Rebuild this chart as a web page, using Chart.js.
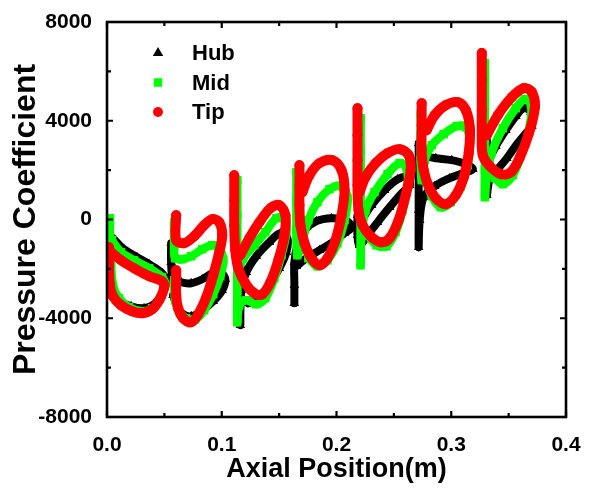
<!DOCTYPE html>
<html>
<head>
<meta charset="utf-8">
<script src="https://cdn.jsdelivr.net/npm/chart.js@4/dist/chart.umd.min.js"></script>
<style>
  body { margin: 0; background: #fff; }
  canvas { display: block; }
</style>
</head>
<body>
<canvas id="grafico" width="590" height="489"></canvas>
<script>
// ===== DADOS =====
// cada estágio de pá separado por null
const xTicks = [0, 0.1, 0.2, 0.3, 0.4];
const yTicks = [-8000, -4000, 0, 4000, 8000];

const hubPts = [
  [.0017,-109],[.0017,-1042],[.0026,-1852],[.0044,-2663],[.0105,-3271],[.0210,-3514],[.0323,-3595],[.0410,-3433],[.0472,-3109],[.0515,-2542],[.0480,-2177],[.0367,-1812],[.0262,-1528],[.0148,-1204],[.0052,-758],
  null,
  [.0559,-961],[.0559,-1731],[.0576,-2379],[.0646,-2542],[.0734,-2582],[.0830,-2420],[.0917,-2177],[.0987,-2136],[.1031,-2420],[.1004,-2866],[.0926,-3312],[.0821,-3717],[.0734,-3919],[.0664,-3838],[.0611,-3514],[.0576,-3068],
  null,
  [.1162,-1447],[.1162,-2866],[.1162,-4284],[.1170,-2866],[.1214,-2136],[.1301,-1487],[.1415,-920],[.1511,-555],[.1572,-758],[.1563,-1325],[.1502,-1974],[.1415,-2663],[.1319,-3230],[.1231,-3393],
  null,
  [.1633,-3393],[.1633,-2663],[.1633,-1731],[.1659,-1042],[.1721,-434],[.1825,-69],[.1956,53],[.2079,-28],[.2131,-312],[.2070,-555],[.1965,-920],[.1852,-1244],[.1738,-1569],[.1651,-1893],
  null,
  [.2183,174],[.2183,-636],[.2201,-1042],[.2271,-636],[.2358,-109],[.2463,499],[.2568,1066],[.2638,1390],[.2620,1714],[.2533,1633],[.2419,1188],[.2306,580],[.2218,-28],
  null,
  [.2716,3092],[.2716,1795],[.2716,377],[.2716,-1123],[.2725,-28],[.2760,904],[.2856,1350],[.2987,1674],[.3100,1877],[.3188,2039],[.3127,2241],[.3004,2403],[.2865,2484],[.2760,2565],
  null,
  [.3310,3214],[.3310,2201],[.3310,985],[.3336,1674],[.3397,1998],[.3485,2484],[.3572,3052],[.3659,3538],[.3703,3781],[.3694,4349],[.3633,4511],[.3563,4186],[.3476,3619],[.3389,2971],[.3328,2403]
];

const midPts = [
  [.0026,53],[.0026,-839],[.0035,-1731],[.0052,-2663],[.0105,-3190],[.0192,-3555],[.0306,-3717],[.0393,-3595],[.0463,-3190],[.0507,-2663],[.0480,-2339],[.0367,-1974],[.0236,-1650],[.0122,-1325],[.0044,-839],
  null,
  [.0585,-109],[.0585,-1042],[.0594,-1569],[.0655,-1609],[.0734,-1487],[.0830,-1204],[.0917,-1042],[.0978,-1163],[.1013,-1650],[.0987,-2298],[.0926,-3028],[.0847,-3676],[.0769,-4041],[.0690,-4001],[.0629,-3717],[.0594,-3271],[.0585,-2460],
  null,
  [.1135,1593],[.1135,174],[.1135,-1244],[.1135,-2866],[.1135,-4163],[.1153,-3474],[.1214,-3271],[.1301,-3433],[.1380,-3190],[.1459,-2379],[.1520,-1447],[.1563,-515],[.1546,53],[.1476,53],[.1380,-515],[.1284,-1042],[.1188,-1569],[.1144,-2055],
  null,
  [.1651,1917],[.1651,782],[.1651,-434],[.1659,-1447],[.1703,-839],[.1755,-28],[.1834,701],[.1939,1228],[.2044,1350],[.2096,863],[.2070,-28],[.2009,-960],[.1921,-1650],[.1834,-1893],[.1755,-1569],
  null,
  [.2210,4102],[.2210,2809],[.2210,1390],[.2210,-28],[.2210,-1852],[.2218,-636],[.2253,377],[.2332,1107],[.2445,1836],[.2550,2282],[.2611,2079],[.2620,1390],[.2576,377],[.2515,-515],[.2437,-1082],[.2349,-1042],[.2271,-636],
  null,
  [.2734,4308],[.2734,3413],[.2734,2403],[.2742,1593],[.2769,2403],[.2830,3011],[.2934,3457],[.3048,3782],[.3127,3741],[.3162,3133],[.3144,2201],[.3083,1350],[.2996,701],[.2908,499],[.2830,944],[.2777,1674],
  null,
  [.3293,6335],[.3293,4835],[.3293,3214],[.3293,1998],[.3293,904],[.3310,1795],[.3354,2728],[.3450,3700],[.3563,4511],[.3642,4876],[.3694,4673],[.3686,3822],[.3625,2809],[.3537,1795],[.3450,1431],[.3380,1674]
];

const tipPts = [
  [.0017,-1123],[.0017,-1852],[.0026,-2663],[.0052,-3109],[.0122,-3474],[.0218,-3717],[.0306,-3798],[.0393,-3636],[.0454,-3271],[.0498,-2744],[.0480,-2501],[.0367,-2298],[.0236,-1974],[.0122,-1650],[.0035,-1325],
  null,
  [.0603,174],[.0603,-839],[.0672,-960],[.0760,-677],[.0847,-231],[.0917,12],[.0978,-109],[.1004,-636],[.0978,-1325],[.0926,-2258],[.0865,-3149],[.0795,-3838],[.0734,-4163],[.0664,-4001],[.0620,-3596],[.0603,-3068],[.0603,-2055],
  null,
  [.1109,1795],[.1109,782],[.1109,-231],[.1118,-1244],[.1144,-1974],[.1205,-2582],[.1284,-2987],[.1354,-3028],[.1424,-2542],[.1493,-1650],[.1546,-636],[.1555,174],[.1502,580],[.1424,458],[.1328,-109],[.1240,-758],[.1162,-1447],
  null,
  [.1677,2201],[.1677,1390],[.1677,580],[.1686,-231],[.1721,-960],[.1782,-1569],[.1852,-1852],[.1921,-1569],[.1991,-839],[.2044,174],[.2070,1188],[.2044,1998],[.1965,2403],[.1852,2282],[.1764,1795],[.1703,1107],
  null,
  [.2183,4507],[.2183,3413],[.2183,2403],[.2183,1390],[.2192,377],[.2227,-231],[.2297,-677],[.2384,-920],[.2463,-758],[.2541,-28],[.2603,985],[.2646,1998],[.2629,2606],[.2550,2849],[.2445,2687],[.2341,2282],[.2253,1714],[.2201,1107],
  null,
  [.2742,4710],[.2742,3818],[.2742,2809],[.2760,1998],[.2803,1350],[.2873,823],[.2952,620],[.3039,985],[.3109,1714],[.3153,2728],[.3162,3700],[.3127,4430],[.3057,4754],[.2952,4632],[.2856,4227],[.2786,3619],
  null,
  [.3266,6740],[.3266,5646],[.3266,4430],[.3266,3417],[.3275,2606],[.3336,2160],[.3432,1836],[.3520,1917],[.3598,2525],[.3677,3498],[.3729,4551],[.3703,5159],[.3633,5322],[.3528,4957],[.3406,4227],[.3310,3417]
];

function toXY(pts) {
  return pts.map(p => p ? { x: p[0], y: p[1] } : { x: null, y: null });
}

// ===== MOLDURA + TICKS PARA DENTRO =====
const moldura = {
  id: 'moldura',
  afterDraw(chart) {
    const { ctx, chartArea: a, scales: { x, y } } = chart;
    ctx.save();
    ctx.strokeStyle = '#000';
    ctx.lineWidth = 2.6;
    ctx.strokeRect(a.left, a.top, a.right - a.left, a.bottom - a.top);
    ctx.lineWidth = 2.2;
    for (let v = 0; v <= 0.4001; v += 0.05) {
      const px = x.getPixelForValue(v);
      const len = Math.abs((v * 10) - Math.round(v * 10)) < 0.01 ? 6 : 4;
      ctx.beginPath();
      ctx.moveTo(px, a.bottom); ctx.lineTo(px, a.bottom - len);
      ctx.moveTo(px, a.top); ctx.lineTo(px, a.top + len);
      ctx.stroke();
    }
    for (let v = -8000; v <= 8000; v += 2000) {
      const py = y.getPixelForValue(v);
      const len = v % 4000 === 0 ? 6 : 4;
      ctx.beginPath();
      ctx.moveTo(a.left, py); ctx.lineTo(a.left + len, py);
      ctx.moveTo(a.right, py); ctx.lineTo(a.right - len, py);
      ctx.stroke();
    }
    ctx.restore();
  }
};

// ===== LEGENDA =====
const legenda = {
  id: 'legenda',
  afterDraw(chart) {
    const { ctx, chartArea: a } = chart;
    ctx.save();
    chart.data.datasets.forEach((ds, i) => {
      const cy = a.top + 31 + i * 29.5;
      const cx = a.left + 51;
      ctx.fillStyle = ds.backgroundColor;
      Chart.helpers.drawPoint(ctx, { pointStyle: ds.pointStyle, rotation: 0, radius: ds.legendRadius, borderWidth: 0 }, cx, cy);
      ctx.fillStyle = '#000';
      ctx.font = 'bold 22px "Liberation Sans", Arial, sans-serif';
      ctx.textBaseline = 'middle';
      ctx.textAlign = 'left';
      ctx.fillText(ds.label, a.left + 85, cy + 1);
    });
    ctx.restore();
  }
};

const fonte = '"Liberation Sans", Arial, sans-serif';

new Chart(document.getElementById('grafico'), {
  type: 'scatter',
  data: {
    datasets: [
      {
        label: 'Hub', data: toXY(hubPts), order: 3,
        showLine: true, spanGaps: false, tension: 0.35,
        borderColor: '#000', backgroundColor: '#000', borderWidth: 8,
        borderCapStyle: 'round', borderJoinStyle: 'round',
        pointStyle: 'triangle', pointRadius: 5.5, pointBorderWidth: 0, legendRadius: 6
      },
      {
        label: 'Mid', data: toXY(midPts), order: 2,
        showLine: true, spanGaps: false, tension: 0.35,
        borderColor: '#00ff00', backgroundColor: '#00ff00', borderWidth: 8.5,
        borderCapStyle: 'round', borderJoinStyle: 'round',
        pointStyle: 'rect', pointRadius: 6, pointBorderWidth: 0, legendRadius: 6
      },
      {
        label: 'Tip', data: toXY(tipPts), order: 1,
        showLine: true, spanGaps: false, tension: 0.35,
        borderColor: '#ff0000', backgroundColor: '#ff0000', borderWidth: 10,
        borderCapStyle: 'round', borderJoinStyle: 'round',
        pointStyle: 'circle', pointRadius: 5, pointBorderWidth: 0, legendRadius: 5
      }
    ]
  },
  options: {
    responsive: false,
    animation: false,
    devicePixelRatio: 1,
    layout: { padding: { top: 22, right: 24, left: 0, bottom: 0 } },
    plugins: { legend: { display: false }, tooltip: { enabled: false } },
    scales: {
      x: {
        type: 'linear', min: 0, max: 0.4,
        afterFit: s => { s.height = 72; },
        afterBuildTicks: s => { s.ticks = xTicks.map(v => ({ value: v })); },
        grid: { display: false }, border: { display: false },
        ticks: {
          autoSkip: false, maxRotation: 0, padding: 8, color: '#000',
          font: { family: fonte, size: 21, weight: 'bold' },
          callback: v => Number(v).toFixed(1)
        },
        title: {
          display: true, text: 'Axial Position(m)', color: '#000',
          font: { family: fonte, size: 27, weight: 'bold' },
          padding: { top: 0, bottom: 3 }
        }
      },
      y: {
        type: 'linear', min: -8000, max: 8000,
        afterFit: s => { s.width = 107; },
        afterBuildTicks: s => { s.ticks = yTicks.map(v => ({ value: v })); },
        grid: { display: false }, border: { display: false },
        ticks: {
          autoSkip: false, padding: 7, color: '#000',
          font: { family: fonte, size: 21, weight: 'bold' },
          callback: v => String(v)
        },
        title: {
          display: true, text: 'Pressure Coefficient', color: '#000',
          font: { family: fonte, size: 32, weight: 'bold' },
          padding: { top: 7, bottom: 0 }
        }
      }
    }
  },
  plugins: [moldura, legenda]
});
</script>
</body>
</html>
